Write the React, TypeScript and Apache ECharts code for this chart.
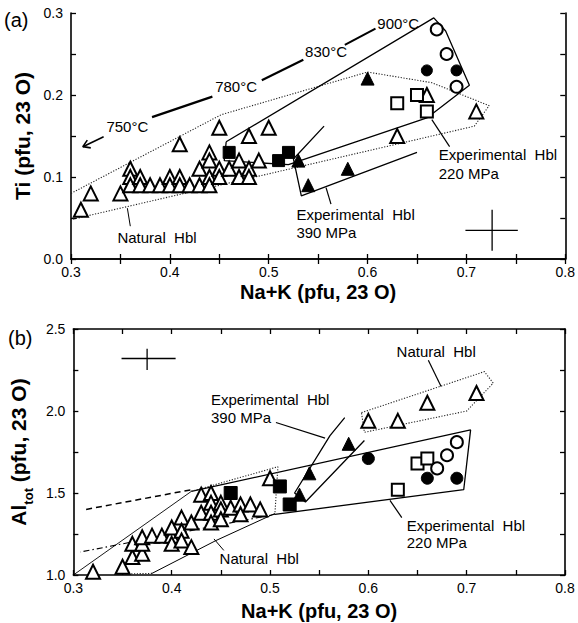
import React, { useEffect, useRef } from 'react';
import * as echarts from 'echarts';

const FONT = 'Liberation Sans, Arial, Helvetica, sans-serif';

// ---------- Panel (a): Ti vs Na+K ----------
const natTriA = [
  [0.31, 0.06], [0.32, 0.08], [0.35, 0.08], [0.36, 0.11], [0.36, 0.10], [0.36, 0.09],
  [0.37, 0.10], [0.37, 0.09], [0.38, 0.09], [0.39, 0.09], [0.40, 0.10], [0.40, 0.09],
  [0.41, 0.14], [0.41, 0.10], [0.41, 0.09], [0.42, 0.09], [0.43, 0.11], [0.43, 0.09],
  [0.44, 0.13], [0.44, 0.12], [0.44, 0.10], [0.44, 0.09], [0.45, 0.16], [0.45, 0.11],
  [0.45, 0.10], [0.46, 0.11], [0.47, 0.12], [0.47, 0.10], [0.48, 0.15], [0.48, 0.11],
  [0.48, 0.10], [0.49, 0.12], [0.50, 0.16], [0.63, 0.15], [0.66, 0.20], [0.71, 0.18],
];
const fillSqA = [[0.46, 0.13], [0.51, 0.12], [0.52, 0.13]];
const fillTriA = [[0.53, 0.12], [0.54, 0.09], [0.58, 0.11], [0.60, 0.22]];
const openSqA = [[0.63, 0.19], [0.65, 0.20], [0.66, 0.18]];
const openCircA = [[0.67, 0.28], [0.68, 0.25], [0.69, 0.21]];
const fillCircA = [[0.66, 0.23], [0.69, 0.23]];

const natFieldA = [[0.30, 0.08], [0.452, 0.176], [0.60, 0.228], [0.665, 0.215], [0.723, 0.187], [0.708, 0.162], [0.30, 0.048]];
const exp220A = [[0.457, 0.143], [0.667, 0.294], [0.679, 0.278], [0.703, 0.212], [0.66, 0.172], [0.52, 0.115], [0.455, 0.12], [0.457, 0.143]];
const exp390A = [[0.556, 0.162], [0.525, 0.122], [0.533, 0.077], [0.65, 0.13]];
const temp1A = [[0.333, 0.149], [0.312, 0.137]];
const arrowHeadA = [[0.32, 0.1355], [0.312, 0.137], [0.3165, 0.145]];
const temp2A = [[0.382, 0.173], [0.443, 0.198]];
const temp3A = [[0.493, 0.218], [0.535, 0.243]];
const temp4A = [[0.577, 0.261], [0.608, 0.281]];
const ptrNatA = [[0.357, 0.062], [0.36, 0.04]];
const ptr220A = [[0.665, 0.17], [0.683, 0.137]];
const ptr390A = [[0.558, 0.087], [0.563, 0.067]];
const errHA = [[0.699, 0.035], [0.752, 0.035]];
const errVA = [[0.726, 0.06], [0.726, 0.01]];

const textsA: [number, number, string, string][] = [
  [0.357, 0.161, '750°C', 'center'],
  [0.467, 0.21, '780°C', 'center'],
  [0.558, 0.253, '830°C', 'center'],
  [0.631, 0.287, '900°C', 'center'],
  [0.387, 0.026, 'Natural  Hbl', 'center'],
  [0.672, 0.127, 'Experimental  Hbl', 'left'],
  [0.672, 0.104, '220 MPa', 'left'],
  [0.528, 0.054, 'Experimental  Hbl', 'left'],
  [0.528, 0.032, '390 MPa', 'left'],
];

// ---------- Panel (b): Al_tot vs Na+K ----------
const natTriB = [
  [0.32, 1.02], [0.35, 1.05], [0.36, 1.11], [0.37, 1.13], [0.36, 1.19], [0.37, 1.19],
  [0.37, 1.23], [0.38, 1.24], [0.39, 1.24], [0.40, 1.24], [0.40, 1.19], [0.40, 1.29],
  [0.41, 1.35], [0.41, 1.27], [0.41, 1.21], [0.42, 1.32], [0.42, 1.17], [0.43, 1.49],
  [0.43, 1.38], [0.44, 1.50], [0.44, 1.44], [0.44, 1.38], [0.44, 1.32], [0.45, 1.44],
  [0.45, 1.40], [0.45, 1.34], [0.46, 1.41], [0.47, 1.43], [0.47, 1.37], [0.48, 1.43],
  [0.49, 1.40], [0.50, 1.59], [0.60, 1.94], [0.63, 1.94], [0.66, 2.05], [0.71, 2.11],
];
const fillSqB = [[0.46, 1.50], [0.51, 1.54], [0.52, 1.43]];
const fillTriB = [[0.53, 1.49], [0.54, 1.62], [0.58, 1.80]];
const openSqB = [[0.63, 1.52], [0.65, 1.68], [0.66, 1.71]];
const openCircB = [[0.67, 1.65], [0.68, 1.73], [0.69, 1.81]];
const fillCircB = [[0.60, 1.71], [0.66, 1.59], [0.69, 1.59]];

const exp220B = [[0.42, 1.51], [0.704, 1.885], [0.697, 1.52], [0.505, 1.37]];
const dashDotB = [[0.505, 1.37], [0.307, 1.14]];
const dashedB = [[0.313, 1.40], [0.42, 1.52]];
const natLeftSolidB = [[0.30, 1.0], [0.42, 1.51]];
const natLeftDotB = [[0.42, 1.51], [0.508, 1.66], [0.505, 1.375]];
const natLowerB = [[0.505, 1.375], [0.445, 1.21], [0.38, 1.01]];
const natBottomB = [[0.38, 1.01], [0.345, 1.005]];
const natRightB = [[0.593, 1.99], [0.718, 2.24], [0.727, 2.17], [0.70, 2.00], [0.596, 1.87], [0.593, 1.99]];
const exp390B = [[0.576, 1.96], [0.561, 1.85], [0.525, 1.50], [0.536, 1.445], [0.596, 1.82]];
const ptr390B = [[0.506, 1.93], [0.556, 1.835]];
const ptrNatRB = [[0.661, 2.31], [0.674, 2.15]];
const ptr220B = [[0.622, 1.455], [0.634, 1.35]];
const ptrNatLB = [[0.443, 1.22], [0.453, 1.15]];
const errHB = [[0.349, 2.32], [0.404, 2.32]];
const errVB = [[0.375, 2.38], [0.375, 2.25]];

const textsB: [number, number, string, string][] = [
  [0.669, 2.36, 'Natural  Hbl', 'center'],
  [0.44, 2.07, 'Experimental  Hbl', 'left'],
  [0.44, 1.96, '390 MPa', 'left'],
  [0.639, 1.30, 'Experimental  Hbl', 'left'],
  [0.639, 1.20, '220 MPa', 'left'],
  [0.489, 1.10, 'Natural  Hbl', 'center'],
];

const xTicks = { min: 0.3, max: 0.8, interval: 0.05 };
const yTicksA = { min: 0, max: 0.3, interval: 0.05 };
const yTicksB = { min: 1.0, max: 2.5, interval: 0.25 };

export default function App() {
  const ref = useRef<HTMLDivElement>(null);
  useEffect(() => {
    const chart = echarts.init(ref.current!, null, { renderer: 'svg' });

    const labelFmt = (step: number) => (v: number) =>
      Math.abs(v / step - Math.round(v / step)) < 1e-6 ? v.toFixed(1) : '';

    const axLine = { show: true, lineStyle: { color: '#000', width: 1.6 } };
    const axTick = { show: true, inside: true, length: 5, lineStyle: { color: '#000', width: 1.3 } };
    const tickLbl = { color: '#000', fontSize: 14, fontFamily: FONT };

    const xAxis = (grid: number, pos: 'bottom' | 'top', labeled: boolean, gap: number) => ({
      type: 'value', gridIndex: grid, position: pos, ...xTicks,
      axisLine: axLine, axisTick: axTick, splitLine: { show: false },
      axisLabel: labeled ? { ...tickLbl, margin: 6, formatter: labelFmt(0.1) } : { show: false },
      name: labeled ? 'Na+K (pfu, 23 O)' : '', nameLocation: 'middle', nameGap: gap,
      nameTextStyle: { color: '#000', fontSize: 20, fontWeight: 'bold', fontFamily: FONT },
    });
    const yAxis = (grid: number, pos: 'left' | 'right', labeled: boolean, t: any, step: number, name: string, rich?: any) => ({
      type: 'value', gridIndex: grid, position: pos, ...t,
      axisLine: axLine, axisTick: axTick, splitLine: { show: false },
      axisLabel: labeled ? { ...tickLbl, margin: 8, formatter: labelFmt(step) } : { show: false },
      name: labeled ? name : '', nameLocation: 'middle', nameGap: 31,
      nameTextStyle: { color: '#000', fontSize: 21, fontWeight: 'bold', fontFamily: FONT, rich },
    });

    const lineS = (xi: number, yi: number, data: number[][], type: any = 'solid', width = 1, color = '#000') => ({
      type: 'line', xAxisIndex: xi, yAxisIndex: yi, data, symbol: 'none', silent: true, z: 1,
      lineStyle: { color, width, type },
    });
    const sc = (xi: number, yi: number, data: number[][], symbol: string, filled: boolean, size: number) => ({
      type: 'scatter', xAxisIndex: xi, yAxisIndex: yi, data, symbol, symbolSize: size, z: 3,
      itemStyle: { color: filled ? '#000' : '#fff', borderColor: '#000', borderWidth: filled ? 1 : 2, opacity: 1 },
    });
    const DOT: any = [1.2, 1.6];

    const option: any = {
      animation: false,
      backgroundColor: '#fff',
      grid: [
        { left: 71, top: 13, width: 498, height: 246 },
        { left: 69, top: 329, width: 496, height: 246 },
      ],
      xAxis: [
        xAxis(0, 'bottom', true, 23),
        xAxis(0, 'top', false, 0),
        xAxis(1, 'bottom', true, 26),
        xAxis(1, 'top', false, 0),
      ],
      yAxis: [
        yAxis(0, 'left', true, yTicksA, 0.1, 'Ti (pfu, 23 O)'),
        yAxis(0, 'right', false, yTicksA, 0.1, ''),
        yAxis(1, 'left', true, yTicksB, 0.5, '{m|Al}{s|tot}{m| (pfu, 23 O)}', {
          m: { fontSize: 21, fontWeight: 'bold', fontFamily: FONT, color: '#000', verticalAlign: 'bottom', padding: [0, 0, 6, 0] },
          s: { fontSize: 13, fontWeight: 'bold', fontFamily: FONT, color: '#000', verticalAlign: 'bottom' },
        }),
        yAxis(1, 'right', false, yTicksB, 0.5, ''),
      ],
      series: [
        // panel (a) lines
        lineS(0, 0, natFieldA, DOT, 1.1, '#222'),
        lineS(0, 0, exp220A, 'solid', 1.3),
        lineS(0, 0, exp390A, 'solid', 1.3),
        lineS(0, 0, temp1A, 'solid', 1.6),
        lineS(0, 0, arrowHeadA, 'solid', 1.6),
        lineS(0, 0, temp2A, 'solid', 2.2),
        lineS(0, 0, temp3A, 'solid', 2.2),
        lineS(0, 0, temp4A, 'solid', 2),
        lineS(0, 0, ptrNatA, 'solid', 1),
        lineS(0, 0, ptr220A, 'solid', 1.2),
        lineS(0, 0, ptr390A, 'solid', 1.2),
        lineS(0, 0, errHA, 'solid', 1.3),
        lineS(0, 0, errVA, 'solid', 1.3),
        // panel (a) points
        sc(0, 0, natTriA, 'triangle', false, 14),
        sc(0, 0, fillSqA, 'rect', true, 12),
        sc(0, 0, fillTriA, 'triangle', true, 13),
        sc(0, 0, openSqA, 'rect', false, 12),
        sc(0, 0, openCircA, 'circle', false, 12),
        sc(0, 0, fillCircA, 'circle', true, 11),
        // panel (b) lines
        lineS(2, 2, exp220B, 'solid', 1.3),
        lineS(2, 2, dashDotB, [6, 3, 1.5, 3], 1.1),
        lineS(2, 2, dashedB, [6, 4], 1.5),
        lineS(2, 2, natLeftSolidB, 'solid', 0.9),
        lineS(2, 2, natLeftDotB, DOT, 1.1, '#222'),
        lineS(2, 2, natLowerB, 'solid', 1),
        lineS(2, 2, natBottomB, DOT, 1.1, '#222'),
        lineS(2, 2, natRightB, DOT, 1.1, '#222'),
        lineS(2, 2, exp390B, 'solid', 1.3),
        lineS(2, 2, ptr390B, 'solid', 1.2),
        lineS(2, 2, ptrNatRB, 'solid', 1.2),
        lineS(2, 2, ptr220B, 'solid', 1.2),
        lineS(2, 2, ptrNatLB, 'solid', 1),
        lineS(2, 2, errHB, 'solid', 1.3),
        lineS(2, 2, errVB, 'solid', 1.3),
        // panel (b) points
        sc(2, 2, natTriB, 'triangle', false, 14),
        sc(2, 2, fillSqB, 'rect', true, 13),
        sc(2, 2, fillTriB, 'triangle', true, 13),
        sc(2, 2, openSqB, 'rect', false, 12),
        sc(2, 2, openCircB, 'circle', false, 12),
        sc(2, 2, fillCircB, 'circle', true, 12),
      ],
    };
    chart.setOption(option);

    const mk = (grid: number, t: [number, number, string, string]) => {
      const p = chart.convertToPixel({ gridIndex: grid } as any, [t[0], t[1]]) as number[];
      return {
        type: 'text', x: p[0], y: p[1], z: 10,
        style: { text: t[2], fill: '#000', fontSize: 15, fontFamily: FONT, align: t[3], verticalAlign: 'middle' },
      };
    };
    const graphics: any[] = [
      ...textsA.map((t) => mk(0, t)),
      ...textsB.map((t) => mk(1, t)),
      { type: 'text', x: 4, y: 20, style: { text: '(a)', fill: '#000', fontSize: 20, fontFamily: FONT, verticalAlign: 'middle' } },
      { type: 'text', x: 8, y: 338, style: { text: '(b)', fill: '#000', fontSize: 20, fontFamily: FONT, verticalAlign: 'middle' } },
    ];
    chart.setOption({ graphic: graphics });

    return () => chart.dispose();
  }, []);
  return <div ref={ref} style={{ position: 'fixed', left: 0, top: 0, width: 578, height: 623 }} />;
}
